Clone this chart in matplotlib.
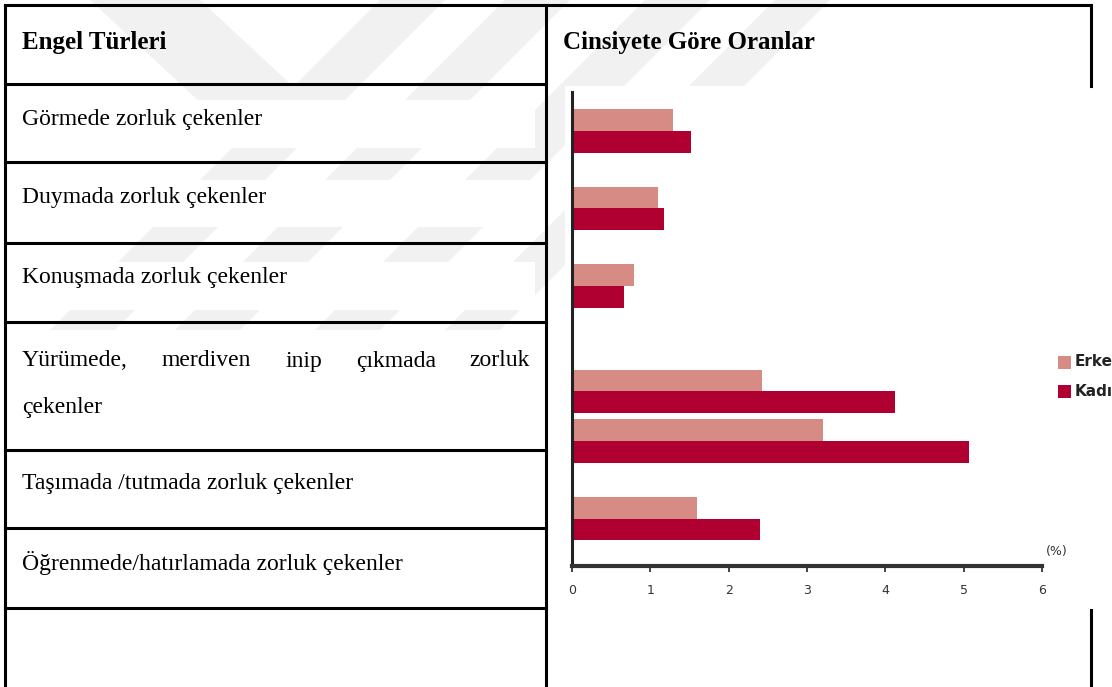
import matplotlib
matplotlib.use("Agg")
import matplotlib.pyplot as plt
from matplotlib.patches import Polygon, Rectangle
import numpy as np

### Veriler
###########

categories = ["Görmede zorluk çekenler",
              "Duymada zorluk çekenler",
              "Konuşmada zorluk çekenler",
              "Yürümede, merdiven inip çıkmada zorluk çekenler",
              "Taşımada /tutmada zorluk çekenler",
              "Öğrenmede/hatırlamada zorluk çekenler"]
erkek = [1.29, 1.10, 0.79, 2.43, 3.20, 1.60]
kadin = [1.52, 1.17, 0.66, 4.12, 5.07, 2.40]
series_names = ["Erkek", "Kadın"]
xticks = [0, 1, 2, 3, 4, 5, 6]
header_left = "Engel Türleri"
header_right = "Cinsiyete Göre Oranlar"

# group centers (the 4th group sits a bit lower in the source image)
group_pos = np.array([0, 1, 2, 3.36, 4, 5])

c_erkek = "#d68b85"
c_kadin = "#b00032"

W, H = 1112, 687
fig = plt.figure(figsize=(W / 100, H / 100), dpi=100)

# background axes in pixel coordinates for the table
bg = fig.add_axes([0, 0, 1, 1])
bg.set_xlim(0, W)
bg.set_ylim(H, 0)
bg.axis("off")

# faint watermark
wm = "#f1f1f1"
for x0, x1 in [(380, 445), (505, 570), (645, 710), (775, 830)]:
    bg.add_patch(Polygon([(x0, 0), (x1, 0), (x1 - 330, 330), (x0 - 330, 330)],
                         closed=True, color=wm, lw=0, zorder=0))
bg.add_patch(Polygon([(90, 0), (200, 0), (340, 130), (230, 130)],
                     closed=True, color=wm, lw=0, zorder=0))
# white text-line boxes hide the watermark
for y0, y1 in [(100, 148), (180, 227), (262, 310)]:
    bg.add_patch(Rectangle((7, y0), 528, y1 - y0, color="white", lw=0, zorder=0.5))
# pasted chart image background
bg.add_patch(Rectangle((565, 86), W - 565, 610 - 86, color="white", lw=0, zorder=0.6))

# table lines
lw = 2.2
bg.plot([5, 1091], [5, 5], color="black", lw=lw, zorder=1)
bg.plot([5, 5], [5, H], color="black", lw=lw, zorder=1)
bg.plot([546, 546], [5, H], color="black", lw=lw, zorder=1)
bg.plot([1091, 1091], [5, 86], color="black", lw=lw, zorder=1)
bg.plot([1091, 1091], [610, H], color="black", lw=lw, zorder=1)
for y in [84, 162, 243, 322, 450, 528, 608]:
    bg.plot([5, 546], [y, y], color="black", lw=lw, zorder=1)

serif = "Liberation Serif"
fs = 17
bg.text(22, 43, header_left, fontsize=18, fontweight="bold", family=serif,
        va="center", ha="left", zorder=2)
bg.text(563, 43, header_right, fontsize=18, fontweight="bold", family=serif,
        va="center", ha="left", zorder=2)

row_y = [120, 198, 278, 361, 484, 563]
for i, (lab, y) in enumerate(zip(categories, row_y)):
    if i == 3:
        # justified first line, rest on second line
        words = lab.split()
        line1, line2 = words[:-1], words[-1:]
        fig.canvas.draw()
        r = fig.canvas.get_renderer()
        ts = [bg.text(0, y, w, fontsize=fs, family=serif, va="center", zorder=2)
              for w in line1]
        widths = [t.get_window_extent(r).width for t in ts]
        gap = (530 - 22 - sum(widths)) / (len(ts) - 1)
        x = 22
        for t, w in zip(ts, widths):
            t.set_x(x)
            x += w + gap
        bg.text(22, y + 47, " ".join(line2), fontsize=fs, family=serif,
                va="center", zorder=2)
    else:
        bg.text(22, y, lab, fontsize=fs, family=serif, va="center", zorder=2)

# chart axes
ax_l, ax_r, ax_t, ax_b = 572, 1042, 92, 566
ax = fig.add_axes([ax_l / W, 1 - ax_b / H, (ax_r - ax_l) / W, (ax_b - ax_t) / H])
ax.patch.set_alpha(0)
bh = 0.28
ax.barh(group_pos - bh / 2, erkek, height=bh, color=c_erkek, label=series_names[0])
ax.barh(group_pos + bh / 2, kadin, height=bh, color=c_kadin, label=series_names[1])
ax.set_xlim(0, 6)
ax.set_ylim(5.61, -0.50)
ax.set_yticks([])
ax.set_xticks(xticks)
ax.set_xticklabels([str(v) for v in xticks], fontsize=9, color="#333333")
ax.tick_params(axis="x", length=4, width=1.2, color="#222222", pad=9)
ax.spines["top"].set_visible(False)
ax.spines["right"].set_visible(False)
ax.spines["left"].set_linewidth(2.2)
ax.spines["left"].set_color("#222222")
ax.spines["bottom"].set_linewidth(3)
ax.spines["bottom"].set_color("#333333")

fig.text(1046 / W, 1 - 551 / H, "(%)", fontsize=9, color="#333333", va="center")

# legend (cut at the image edge as in the source)
for name, col, y in [(series_names[0], c_erkek, 362), (series_names[1], c_kadin, 391)]:
    bg.add_patch(Rectangle((1058, y - 6.5), 13, 13, color=col, lw=0, zorder=2))
    bg.text(1075, y, name, fontsize=11, fontweight="bold", color="#222222",
            va="center", ha="left", zorder=2)

fig.savefig("out.png", dpi=100)
